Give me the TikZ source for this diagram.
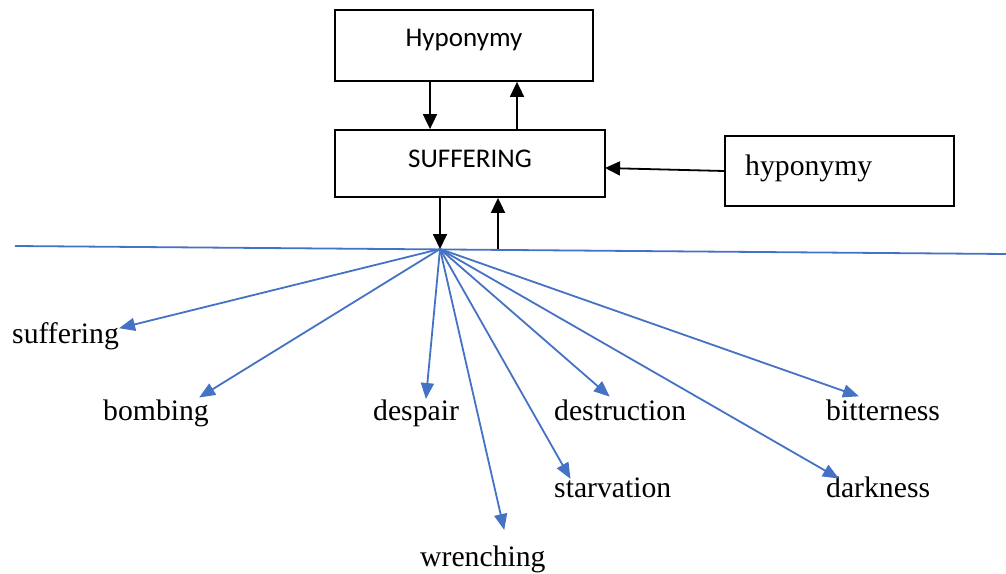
\documentclass[tikz,border=0pt]{standalone}
\usepackage{fontspec}
\setmainfont{Liberation Serif}
\newfontfamily\calfont{Carlito}
\usetikzlibrary{arrows.meta,calc}
\definecolor{lineblue}{HTML}{4472C4}
\tikzset{
  box/.style={draw=black,line width=1.8pt,minimum width=#1,inner sep=0pt},
  blk/.style={draw=black,line width=1.8pt,-{Triangle[length=15pt,width=14pt]}},
  blu/.style={draw=lineblue,line width=1.8pt,-{Triangle[length=16pt,width=13pt]},shorten >=-1pt},
  word/.style={font=\fontsize{29.7}{32}\selectfont,anchor=base west,inner sep=0pt},
  sans/.style={font=\calfont\fontsize{27}{30}\selectfont,anchor=base,inner sep=0pt}
}
\begin{document}
\begin{tikzpicture}[x=1pt,y=-1pt]
\useasboundingbox (0,0) rectangle (1006,573);
% boxes
\node[box=258pt,minimum height=71pt] (hyp) at (464,45.5) {};
\node[box=270pt,minimum height=67pt] (suf) at (470,163.5) {};
\node[box=229pt,minimum height=70pt] (hyp2) at (839.5,171) {};
\node[sans] (thyp) at (464,46) {Hyponymy};
\node[sans] (tsuf) at (470,167) {SUFFERING};
\node[word] (thyp2) at (745,175) {hyponymy};
% black connectors
\coordinate (xa) at (430,0);
\coordinate (xb) at (517,0);
\coordinate (xc) at (440,0);
\coordinate (xd) at (498,0);
\coordinate (hub) at (440,249);
\coordinate (sufR) at (605,168);
\draw[blk] (hyp.south -| xa) -- (suf.north -| xa);
\draw[blk] (suf.north -| xb) -- (hyp.south -| xb);
\draw[blk] (suf.south -| xc) -- (hub);
\draw[blk] (hub -| xd) -- (suf.south -| xd);
\draw[blk] (hyp2.west) -- (sufR);
% horizontal blue line
\coordinate (L1) at (15,246);
\coordinate (L2) at (1006,254);
\draw[lineblue,line width=1.8pt] (L1) -- (L2);
% labels
\node[word] (w1) at (12,343) {suffering};
\node[word] (w2) at (103,420) {bombing};
\node[word] (w3) at (373,420) {despair};
\node[word] (w4) at (554,420) {destruction};
\node[word] (w5) at (826,420) {bitterness};
\node[word] (w6) at (554,497) {starvation};
\node[word] (w7) at (826,497) {darkness};
\node[word] (w8) at (420,566) {wrenching};
% arrow tips
\coordinate (t1) at (120,328);
\coordinate (t2) at (200,397);
\coordinate (t3) at (426,398);
\coordinate (t4) at (609,396);
\coordinate (t5) at (858,396);
\coordinate (t6) at (570,478);
\coordinate (t7) at (838,478);
\coordinate (t8) at (504,529);
\foreach \t in {t1,t2,t3,t4,t5,t6,t7,t8} \draw[blu] (hub) -- (\t);
\end{tikzpicture}
\end{document}
